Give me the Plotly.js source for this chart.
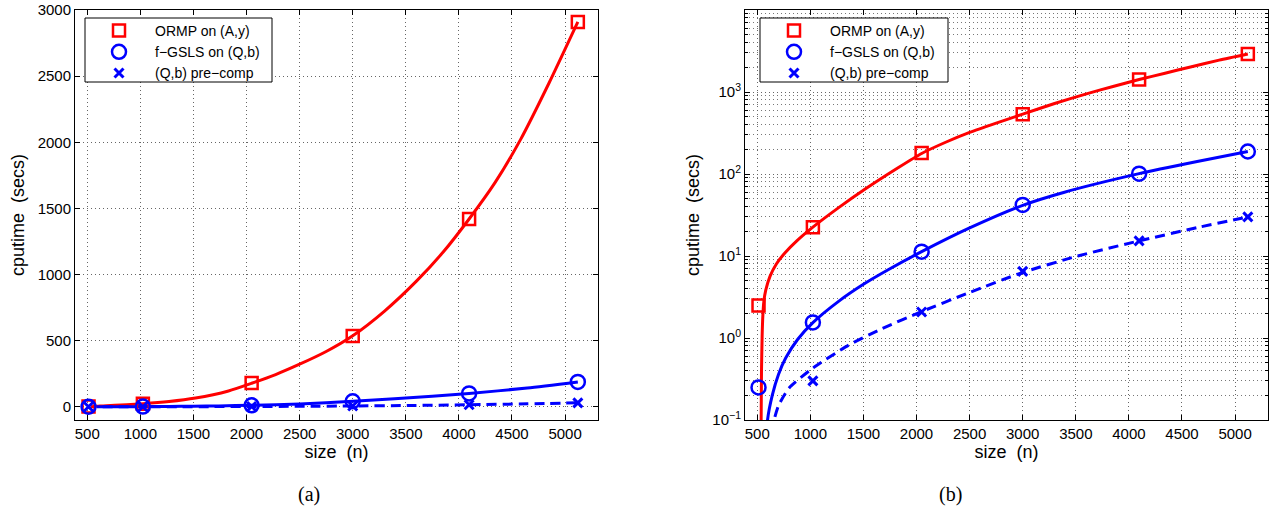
<!DOCTYPE html>
<html>
<head>
<meta charset="utf-8">
<script src="https://cdn.plot.ly/plotly-3.0.1.min.js"></script>
<style>
html,body{margin:0;padding:0;background:#fff;}
#chart{width:1274px;height:516px;}
</style>
</head>
<body>
<div id="chart"></div>
<script>
// ---- marker data ----
const sizes   = [512, 1024, 2048, 3000, 4096, 5120];
const ormp    = [2.5, 22.5, 180, 535, 1420, 2910];
const fgsls   = [0.25, 1.55, 11.3, 42, 101, 188];
const precomp = [0.04, 0.30, 2.08, 6.5, 15.3, 30];

// ---- fitted curves ----
const ormpCurveN = [535, 540, 546, 553, 562, 580, 620, 680, 760, 870, 1024, 1270, 1520, 1830, 2048, 2274, 2500, 2750, 3000, 3300, 3600, 3850, 4096, 4340, 4580, 4850, 5120];
const ormpCurveV = [0.05, 0.39, 1.06, 1.9, 2.78, 3.83, 5.65, 8.0, 10.9, 15.2, 22.5, 39.2, 66, 120, 178, 244, 322, 418, 537, 724, 950, 1168, 1420, 1695, 2020, 2450, 2910];
const fgslsCurveN = [590, 597, 643, 700, 769, 880, 1024, 1269, 1500, 1737, 2048, 2500, 3000, 3393, 4096, 4643, 5120];
const fgslsCurveV = [0.06, 0.1, 0.204, 0.36, 0.574, 0.96, 1.54, 2.82, 4.52, 6.85, 11.3, 22, 41.5, 60, 101, 142, 188];
const precompCurveN = [645, 659, 700, 800, 1024, 1362, 1675, 2048, 2500, 3000, 3518, 4096, 4643, 5120];
const precompCurveV = [0.07, 0.1, 0.15, 0.246, 0.43, 0.82, 1.30, 2.1, 3.6, 6.3, 10.0, 15.3, 22.2, 30];

// ---- labels / ticks ----
const seriesNames = ['ORMP on (A,y)', 'f\u2212GSLS on (Q,b)', '(Q,b) pre\u2212comp'];
const xTicks = [500, 1000, 1500, 2000, 2500, 3000, 3500, 4000, 4500, 5000];
const yTicksLin = [0, 500, 1000, 1500, 2000, 2500, 3000];
const yTicksLog = [0.1, 1, 10, 100, 1000, 10000];
const yTickTextLog = ['10<sup>\u22121</sup>', '10<sup>0</sup>', '10<sup>1</sup>', '10<sup>2</sup>', '10<sup>3</sup>', '10<sup>4</sup>'];
const xTitle = 'size\u00a0 (n)';
const yTitle = 'cputime\u00a0 (secs)';
const panelLabels = ['(a)', '(b)'];

const RED = '#ff0000', BLUE = '#0000ff';
const FONT = "'Liberation Sans', Arial, Helvetica, sans-serif";
const SERIF = "'Liberation Serif', 'Times New Roman', serif";
const W = 1274, H = 516;

// minor log ticks 2..9 of each decade
const minorLog = [];
for (let e = -1; e < 4; e++) for (let k = 2; k <= 9; k++) minorLog.push(k * Math.pow(10, e));

function panel(xa, ya, leg) {
  const ln = (c, d) => ({color: c, width: 3, dash: d, shape: 'spline', smoothing: 0.6});
  return [
    {x: ormpCurveN, y: ormpCurveV, xaxis: xa, yaxis: ya, mode: 'lines', line: ln(RED, 'solid'), showlegend: false, hoverinfo: 'skip'},
    {x: fgslsCurveN, y: fgslsCurveV, xaxis: xa, yaxis: ya, mode: 'lines', line: ln(BLUE, 'solid'), showlegend: false, hoverinfo: 'skip'},
    {x: precompCurveN, y: precompCurveV, xaxis: xa, yaxis: ya, mode: 'lines', line: ln(BLUE, '10px,6px'), showlegend: false, hoverinfo: 'skip'},
    {x: sizes, y: ormp, xaxis: xa, yaxis: ya, mode: 'markers', name: seriesNames[0], legend: leg,
      marker: {symbol: 'square-open', size: 12, color: RED, line: {width: 2.5, color: RED}}},
    {x: sizes, y: fgsls, xaxis: xa, yaxis: ya, mode: 'markers', name: seriesNames[1], legend: leg,
      marker: {symbol: 'circle-open', size: 14, color: BLUE, line: {width: 2.5, color: BLUE}}},
    {x: sizes, y: precomp, xaxis: xa, yaxis: ya, mode: 'markers', name: seriesNames[2], legend: leg,
      marker: {symbol: 'x-thin', size: 9, color: BLUE, line: {width: 3, color: BLUE}}}
  ];
}

const data = panel('x', 'y', 'legend').concat(panel('x2', 'y2', 'legend2'));

const axCommon = {
  showline: true, linecolor: '#000', linewidth: 1, mirror: 'allticks',
  ticks: 'inside', ticklen: 5, tickcolor: '#000', tickwidth: 1,
  showgrid: true, gridcolor: '#666', gridwidth: 1, griddash: '1px,3px',
  zeroline: false, tickfont: {family: FONT, size: 15, color: '#000'}
};
const xCommon = Object.assign({}, axCommon, {
  range: [385, 5310], tickmode: 'array', tickvals: xTicks,
  title: {text: xTitle, font: {family: FONT, size: 18, color: '#000'}, standoff: 4}
});
const legendCommon = {
  xanchor: 'left', yanchor: 'top', bgcolor: 'rgba(0,0,0,0)', borderwidth: 0,
  font: {family: FONT, size: 14, color: '#000'}, itemwidth: 62, tracegroupgap: 0
};
// legend frames (white boxes with black border)
const legendBox = (x0, x1) => ({type: 'rect', xref: 'paper', yref: 'paper',
  x0: x0 / W, x1: x1 / W, y0: 1 - 82 / H, y1: 1 - 18 / H,
  line: {color: '#000', width: 1}, fillcolor: '#fff', layer: 'above'});

const layout = {
  width: W, height: H,
  margin: {l: 0, r: 0, t: 0, b: 0},
  paper_bgcolor: '#fff', plot_bgcolor: '#fff',
  showlegend: true,
  xaxis: Object.assign({}, xCommon, {domain: [0.0589, 0.4694], anchor: 'y'}),
  yaxis: Object.assign({}, axCommon, {
    domain: [0.186, 0.9806], anchor: 'x', range: [-100, 3000], tickmode: 'array', tickvals: yTicksLin,
    title: {text: yTitle, font: {family: FONT, size: 18, color: '#000'}, standoff: 8}
  }),
  xaxis2: Object.assign({}, xCommon, {domain: [0.5848, 0.9953], anchor: 'y2'}),
  yaxis2: Object.assign({}, axCommon, {
    domain: [0.186, 0.9806], anchor: 'x2', type: 'log', range: [-1, 4],
    tickmode: 'array', tickvals: yTicksLog, ticktext: yTickTextLog,
    minor: {tickmode: 'array', tickvals: minorLog, ticks: 'inside', ticklen: 3, tickcolor: '#000',
            showgrid: true, gridcolor: '#777', gridwidth: 1, griddash: '1px,3px'},
    title: {text: yTitle, font: {family: FONT, size: 18, color: '#000'}, standoff: 8}
  }),
  legend: Object.assign({}, legendCommon, {x: 83 / W, y: 1 - 15 / H}),
  legend2: Object.assign({}, legendCommon, {x: 758 / W, y: 1 - 15 / H}),
  shapes: [legendBox(85, 272), legendBox(760, 948)],
  annotations: [
    {text: panelLabels[0], xref: 'paper', yref: 'paper', x: 0.2425, y: 0.0407, showarrow: false,
     xanchor: 'center', yanchor: 'middle', font: {family: SERIF, size: 20, color: '#000'}},
    {text: panelLabels[1], xref: 'paper', yref: 'paper', x: 0.7457, y: 0.0407, showarrow: false,
     xanchor: 'center', yanchor: 'middle', font: {family: SERIF, size: 20, color: '#000'}}
  ]
};

Plotly.newPlot('chart', data, layout, {staticPlot: true, displayModeBar: false});
</script>
</body>
</html>
